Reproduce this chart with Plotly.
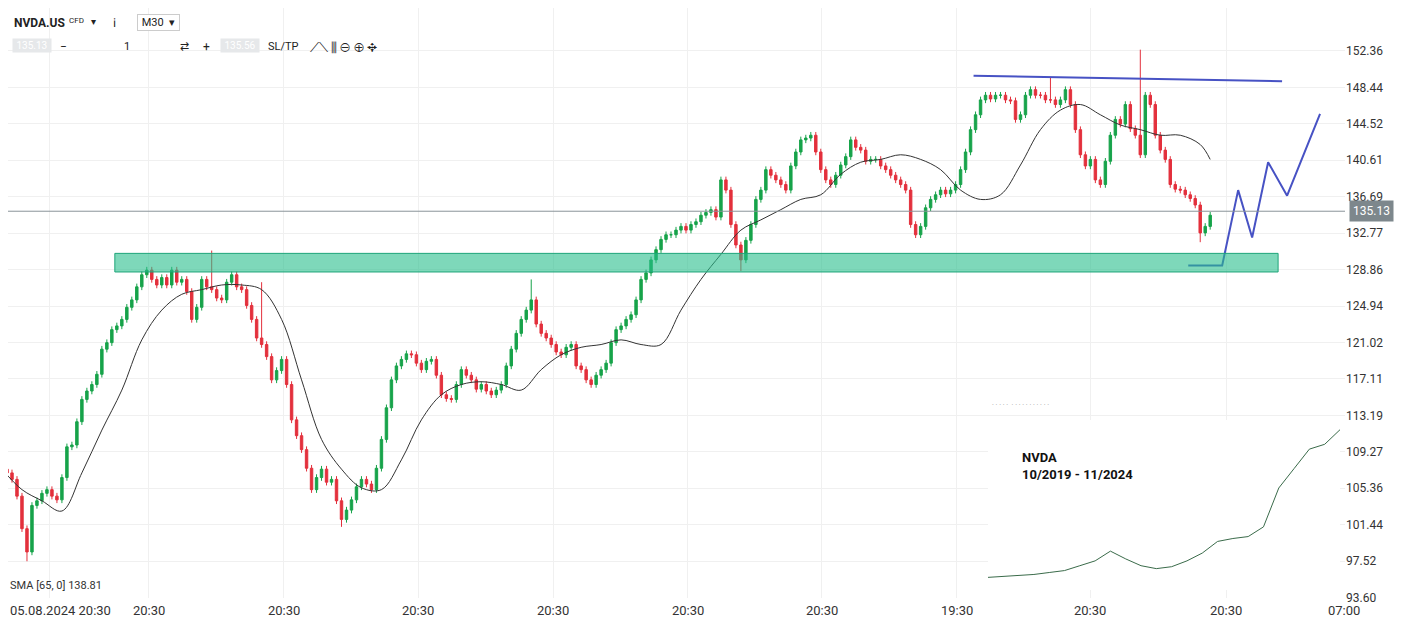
import plotly.graph_objects as go

closes = [
107.4,107.0,106.3,104.5,101.0,98.5,103.5,104.0,104.8,105.2,
104.5,104.1,106.5,109.8,110.0,112.5,114.9,115.8,116.5,117.6,
120.3,121.0,122.4,122.8,123.5,124.8,125.6,127.0,128.3,128.8,
127.8,127.2,128.0,127.2,128.8,127.5,127.8,126.5,123.5,124.8,
127.8,127.0,126.7,125.8,125.6,127.5,128.3,127.0,126.7,125.0,
123.5,121.5,120.8,119.5,117.0,118.0,119.2,116.5,112.7,111.0,
109.5,107.5,105.2,106.5,107.4,106.0,106.3,104.0,102.0,103.0,
104.1,105.5,106.3,105.8,105.2,107.5,110.6,114.0,117.0,118.5,
119.2,119.8,119.7,118.8,118.1,119.0,119.2,117.5,115.4,115.0,
114.9,116.5,118.1,117.5,117.0,116.0,116.5,115.8,115.4,115.9,
116.5,118.5,120.3,122.0,123.5,124.5,125.6,123.0,122.0,121.5,
120.8,120.0,119.7,120.5,120.8,118.5,118.1,117.0,116.5,117.5,
118.1,118.8,121.0,122.4,122.8,123.5,124.0,125.6,127.8,128.5,
129.9,131.0,132.1,132.6,132.6,133.1,133.5,133.1,133.7,134.0,
134.7,135.0,135.3,134.5,138.5,137.4,133.7,131.5,129.9,132.0,
133.7,136.4,137.4,139.6,139.0,138.5,138.0,137.4,140.0,141.5,
142.8,143.0,143.3,141.5,139.6,138.5,138.0,139.0,140.1,141.0,
142.8,142.0,141.7,140.5,140.7,140.7,140.0,139.6,139.0,138.5,
138.0,137.4,133.7,132.6,133.5,135.5,136.4,136.9,137.4,137.0,
137.4,138.0,139.6,141.5,143.9,145.5,147.1,147.6,147.2,147.6,
147.6,147.1,147.0,145.0,145.5,147.6,148.2,147.6,147.6,147.1,
147.1,146.6,147.1,148.2,146.6,143.9,141.2,140.0,140.7,138.5,
138.0,140.5,143.3,145.0,144.5,146.6,144.0,143.3,141.2,147.6,
146.6,143.3,141.7,140.7,138.0,137.5,137.4,136.9,136.5,135.8,
132.8,133.5,134.7]
first_open = 107.9
high_over = {42: 130.9, 228: 152.5, 52: 127.5, 106: 127.8, 210: 149.5}
low_over = {5: 97.5, 148: 128.7, 240: 131.8, 68: 101.2}

sma_x = list(range(0, 1201, 20)) + [1210]
sma_v = [107.4,105.2,104.0,102.9,107.0,111.6,115.9,121.3,124.5,126.2,
126.7,127.2,127.2,126.7,123.5,117.0,110.6,107.4,105.4,105.2,
108.4,112.7,115.4,116.5,116.8,116.5,115.9,118.1,119.7,120.5,
120.8,121.3,120.8,120.8,124.5,127.8,130.5,133.1,134.2,135.3,
136.4,136.9,139.1,140.4,140.7,141.2,140.7,139.6,137.4,136.4,
136.9,140.1,143.9,146.0,146.6,145.5,144.4,143.9,143.3,143.3,
142.3,140.7]

inset_v = [13,14,15,16,18,20,25,30,40,32,25,22,24,30,38,50,53,55,65,105,125,145,150,165]

yticks = [152.36,148.44,144.52,140.61,136.69,132.77,128.86,124.94,121.02,117.11,113.19,109.27,105.36,101.44,97.52,93.60]
xlabels = ["05.08.2024 20:30","20:30","20:30","20:30","20:30","20:30","20:30","19:30","20:30","20:30"]
xlabel_px = [48,147,282,417,552,687,821,956,1090,1226]
last_price = 135.13

opens, highs, lows = [], [], []
prev = first_open
for i, c in enumerate(closes):
    o = prev
    opens.append(o)
    highs.append(high_over.get(i, max(o, c) + 0.35))
    lows.append(low_over.get(i, min(o, c) - 0.35))
    prev = c
xs = list(range(len(closes)))

OFF = 8.0          # page offset of the figure
W = 1337.0
H = 590.0
def px_x(p): return (p - OFF) / W
def px_y(p): return 1 - (p - OFF) / H

fig = go.Figure()
fig.add_shape(type="rect", xref="paper", yref="paper", x0=px_x(985), x1=1.0, y0=0.0, y1=px_y(405),
    fillcolor="white", line=dict(width=0), layer="below")
fig.add_trace(go.Candlestick(x=xs, open=opens, high=highs, low=lows, close=closes,
    increasing=dict(line=dict(color="#17a34a", width=1), fillcolor="#17a34a"),
    decreasing=dict(line=dict(color="#e3303c", width=1), fillcolor="#e3303c"),
    whiskerwidth=0, showlegend=False, hoverinfo="skip"))
fig.add_trace(go.Scatter(x=[p/5 for p in sma_x], y=sma_v, mode="lines",
    line=dict(color="#333333", width=1), line_shape="spline", showlegend=False))

fig.add_shape(type="rect", x0=113/5, x1=1278/5, y0=128.6, y1=130.6,
    fillcolor="rgba(40,190,140,0.6)", line=dict(color="#1fa57a", width=1))
fig.add_shape(type="line", x0=973/5, x1=1282/5, y0=149.7, y1=149.1, line=dict(color="#4752c4", width=2))
fig.add_shape(type="line", x0=0, x1=1, xref="paper", y0=last_price, y1=last_price, line=dict(color="#8a9499", width=1))
zz_x = [1188,1222,1238,1252,1268,1287,1320]
zz_y = [129.3,129.3,137.4,132.3,140.4,136.8,145.6]
fig.add_trace(go.Scatter(x=[p/5 for p in zz_x], y=zz_y, mode="lines",
    line=dict(color="#4752c4", width=2), showlegend=False))

fig.add_trace(go.Scatter(x=list(range(len(inset_v))), y=inset_v, xaxis="x2", yaxis="y2", mode="lines",
    line=dict(color="#3a6b4a", width=1), showlegend=False))
fig.add_annotation(xref="paper", yref="paper", x=px_x(1020), y=px_y(484), xanchor="left", align="left",
    text="<b>NVDA<br>10/2019 - 11/2024</b>", showarrow=False, font=dict(size=13, color="#111"))
fig.add_annotation(xref="paper", yref="paper", x=px_x(990), y=px_y(411), xanchor="left",
    text="· · · · ·  · · · · · · · · · · ·", showarrow=False, font=dict(size=7, color="#999"))

for k, (lbl, px) in enumerate(zip(xlabels, xlabel_px)):
    if k == 0:
        fig.add_annotation(x=0, xref="paper", xanchor="left", y=0, yref="paper", yanchor="top", text=lbl,
                           showarrow=False, font=dict(size=13, color="#333"), yshift=-3)
    else:
        fig.add_annotation(x=px/5, y=0, yref="paper", yanchor="top", text=lbl, showarrow=False,
                           font=dict(size=13, color="#333"), yshift=-3)
fig.add_annotation(x=px_x(1362), xref="paper", y=0, yref="paper", yanchor="top", text="07:00", showarrow=False,
                   font=dict(size=13, color="#333"), yshift=-3)
fig.add_annotation(x=1.0, xref="paper", xanchor="left", y=last_price, text="135.13", showarrow=False,
    bgcolor="#7d878c", font=dict(size=12, color="white"), xshift=4, borderpad=3)
fig.add_annotation(x=0.0, xref="paper", y=px_y(594), yref="paper", xanchor="left",
    text="SMA [65, 0] 138.81", showarrow=False, font=dict(size=11, color="#333"))
tb = [(12, 14, "<b>NVDA.US</b>", 12, None), (67, 14, "CFD", 8, None), (89, 14, "▾", 10, None),
      (111, 14, "ℹ", 12, None), (137, 14, " M30  ▾ ", 11, "#ffffff"),
      (12, 38, " 135.13 ", 10, "#e6e8ea"), (58, 38, "−", 12, None), (122, 38, "1", 11, None),
      (178, 38, "⇄", 11, None), (201, 38, "+", 12, None), (220, 38, " 135.56 ", 10, "#e6e8ea"),
      (266, 38, "SL/TP", 11, None), (308, 38, "⟋⟍ ⫼ ⊖ ⊕ ✥", 13, None)]
for px, py, t, s, bg in tb:
    fig.add_annotation(xref="paper", yref="paper", x=px_x(px), y=px_y(py), xanchor="left", text=t,
        showarrow=False, font=dict(size=s, color="#222" if bg != "#e6e8ea" else "#fff"),
        bgcolor=bg, bordercolor="#ccc" if bg == "#ffffff" else None)

fig.update_layout(
    width=1410, height=614, margin=dict(l=0, r=73, t=0, b=24, autoexpand=False),
    paper_bgcolor="white", plot_bgcolor="white",
    xaxis=dict(range=[OFF/5 - 0.4, 269], rangeslider=dict(visible=False), showticklabels=False, automargin=False,
               tickvals=[p/5 for p in xlabel_px], showgrid=True, gridcolor="#f0f0f0", zeroline=False),
    yaxis=dict(side="right", range=[93.55, 152.36 + (51 - OFF) * 0.1074], tickvals=yticks,
               ticktext=[f"{v:.2f}" for v in yticks],
               automargin=False, showgrid=True, gridcolor="#f0f0f0", tickfont=dict(size=12, color="#333"),
               zeroline=False),
    xaxis2=dict(domain=[px_x(988), px_x(1340)], anchor="y2", visible=False),
    yaxis2=dict(domain=[px_y(590), px_y(420)], anchor="x2", visible=False, range=[0, 175]),
    font=dict(family="Roboto"),
)
fig.write_html("out.html")
